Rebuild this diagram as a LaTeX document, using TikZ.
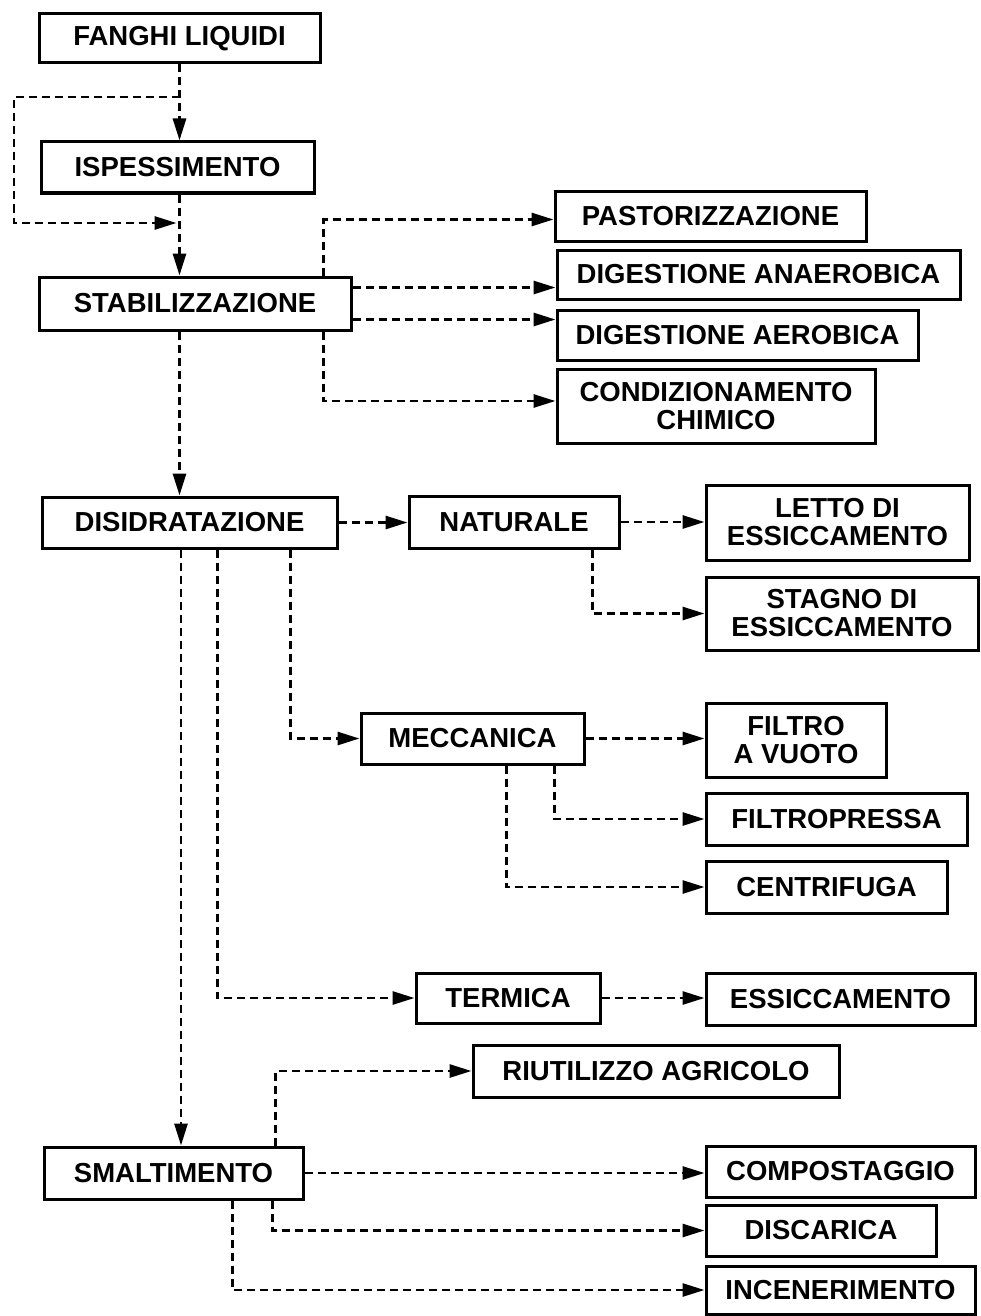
\documentclass[tikz,border=0pt]{standalone}
\usepackage{fontspec}
\setmainfont{Liberation Sans}
\usetikzlibrary{arrows.meta}
\begin{document}
\begin{tikzpicture}[x=1pt,y=-1pt,
  box/.style={draw, line width=3pt, inner sep=0pt, align=center,
    font=\fontsize{27.5}{28}\selectfont\bfseries},
  dl/.style={line width=2.8pt, dash pattern=on 8pt off 5pt},
  conn/.style={dl, -{Triangle[length=22pt,width=13pt]}}]
\useasboundingbox (0,0) rectangle (980,1316);
\fill[white] (0,0) rectangle (980,1316);
% nodes
\node[box, minimum width=281pt, minimum height=49pt] (fanghi) at (179.5,38.5) {FANGHI LIQUIDI};
\node[box, minimum width=273pt, minimum height=51pt] (isp) at (177.5,167.5) {ISPESSIMENTO};
\node[box, minimum width=312pt, minimum height=53pt] (stab) at (195,303.5) {STABILIZZAZIONE};
\node[box, minimum width=311pt, minimum height=49pt] (past) at (710.5,216.5) {PASTORIZZAZIONE};
\node[box, minimum width=403pt, minimum height=49pt] (anaer) at (758.5,274.5) {DIGESTIONE ANAEROBICA};
\node[box, minimum width=361pt, minimum height=50pt] (aer) at (737.5,335) {DIGESTIONE AEROBICA};
\node[box, minimum width=318pt, minimum height=74pt] (cond) at (716,406) {CONDIZIONAMENTO\\CHIMICO};
\node[box, minimum width=295pt, minimum height=51pt] (dis) at (189.5,522.5) {DISIDRATAZIONE};
\node[box, minimum width=210pt, minimum height=52pt] (nat) at (514,522) {NATURALE};
\node[box, minimum width=263pt, minimum height=75pt] (letto) at (837.5,522.5) {LETTO DI\\ESSICCAMENTO};
\node[box, minimum width=272pt, minimum height=73pt] (stagno) at (842,613.5) {STAGNO DI\\ESSICCAMENTO};
\node[box, minimum width=223pt, minimum height=51pt] (mec) at (472.5,738.5) {MECCANICA};
\node[box, minimum width=180pt, minimum height=74pt] (vuoto) at (796,740) {FILTRO\\A VUOTO};
\node[box, minimum width=261pt, minimum height=52pt] (fpress) at (836.5,819) {FILTROPRESSA};
\node[box, minimum width=241pt, minimum height=52pt] (centr) at (826.5,887) {CENTRIFUGA};
\node[box, minimum width=184pt, minimum height=50pt] (term) at (508,998) {TERMICA};
\node[box, minimum width=269pt, minimum height=52pt] (essic) at (840.5,999) {ESSICCAMENTO};
\node[box, minimum width=366pt, minimum height=52pt] (riut) at (656,1071) {RIUTILIZZO AGRICOLO};
\node[box, minimum width=259pt, minimum height=52pt] (smal) at (173.5,1173) {SMALTIMENTO};
\node[box, minimum width=269pt, minimum height=51pt] (comp) at (840.5,1171.5) {COMPOSTAGGIO};
\node[box, minimum width=230pt, minimum height=51pt] (disc) at (821,1230.5) {DISCARICA};
\node[box, minimum width=269pt, minimum height=48pt] (inc) at (840.5,1290) {INCENERIMENTO};
% coordinates
\coordinate (j1) at (179.5,97);
\coordinate (j2) at (179.5,223);
\coordinate (bl1) at (14,97);
\coordinate (bl2) at (14,223);
\coordinate (sa) at ([yshift=16pt]stab.east);
\coordinate (sb) at ([yshift=-16pt]stab.east);
% main line
\draw[conn] (fanghi.south) -- (fanghi.south |- isp.north);
\draw[conn] (fanghi.south |- isp.south) -- (fanghi.south |- stab.north);
\draw[conn] (j1) -- (bl1) -- (bl2) -- ([xshift=-3pt]j2);
\draw[conn] (fanghi.south |- stab.south) -- (fanghi.south |- dis.north);
\draw[conn] ([xshift=1.5pt]fanghi.south |- dis.south) -- ([xshift=1.5pt]fanghi.south |- smal.north);
% stabilizzazione branches
\draw[conn] ([xshift=-29pt]stab.north east) |- ([yshift=-3pt]past.west);
\draw[conn] (sa) -- (sa -| anaer.west);
\draw[conn] (sb) -- (sb -| aer.west);
\draw[conn] ([xshift=-29pt]stab.south east) |- ([yshift=5pt]cond.west);
% disidratazione branches
\draw[conn] (dis.east) -- (dis.east -| nat.west);
\draw[conn] (nat.east) -- (nat.east -| letto.west);
\draw[conn] ([xshift=-28pt]nat.south east) |- (stagno.west);
\draw[conn] ([xshift=-48pt]dis.south east) |- (mec.west);
\draw[conn] (mec.east) -- (mec.east -| vuoto.west);
\draw[conn] ([xshift=-31pt]mec.south east) |- (fpress.west);
\draw[conn] ([xshift=-79pt]mec.south east) |- (centr.west);
\draw[conn] ([xshift=-121pt]dis.south east) |- (term.west);
\draw[conn] (term.east) -- (term.east -| essic.west);
% smaltimento branches
\draw[conn] ([xshift=-29pt]smal.north east) |- (riut.west);
\draw[conn] (smal.east) -- (smal.east -| comp.west);
\draw[conn] ([xshift=-32pt]smal.south east) |- (disc.west);
\draw[conn] ([xshift=-72pt]smal.south east) |- (inc.west);
\end{tikzpicture}
\end{document}
